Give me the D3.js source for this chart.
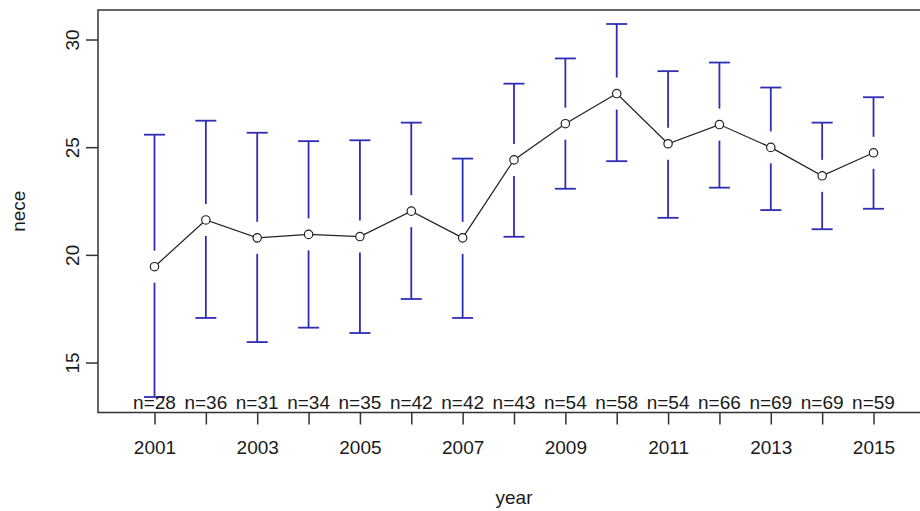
<!DOCTYPE html>
<html>
<head>
<meta charset="utf-8">
<script src="https://cdn.jsdelivr.net/npm/d3@7"></script>
<style>
  body { margin: 0; background: #fff; }
  svg text { font-family: "Liberation Sans", Arial, sans-serif; fill: #1a1a1a; }
</style>
</head>
<body>
<svg id="viz" width="920" height="511"></svg>
<script>
// data
var years = [2001, 2002, 2003, 2004, 2005, 2006, 2007, 2008, 2009, 2010, 2011, 2012, 2013, 2014, 2015];
var means = [19.45, 21.62, 20.79, 20.95, 20.85, 22.03, 20.79, 24.41, 26.09, 27.49, 25.16, 26.05, 24.99, 23.67, 24.74];
var upper = [25.58, 26.23, 25.67, 25.28, 25.32, 26.14, 24.47, 27.95, 29.12, 30.72, 28.53, 28.93, 27.77, 26.14, 27.32];
var lower = [13.40, 17.07, 15.95, 16.62, 16.37, 17.95, 17.07, 20.84, 23.07, 24.35, 21.72, 23.12, 22.08, 21.19, 22.14];
var counts = [28, 36, 31, 34, 35, 42, 42, 43, 54, 58, 54, 66, 69, 69, 59];
var yTicks = [15, 20, 25, 30];
var xLabelYears = [2001, 2003, 2005, 2007, 2009, 2011, 2013, 2015];

// plot region (right edge runs off the picture, as in the original)
var plotL = 98, plotR = 930, plotT = 10, plotB = 412.5;
var barCol = "#2e2eb4";
var gap = 16;

var x = d3.scaleLinear().domain([1999.9, 2016.1]).range([plotL, plotR]);
var y = d3.scaleLinear().domain([12.68, 31.37]).range([plotB, plotT]);

var svg = d3.select("#viz");

// plot box
svg.append("rect")
    .attr("x", plotL).attr("y", plotT)
    .attr("width", plotR - plotL).attr("height", plotB - plotT)
    .attr("fill", "none").attr("stroke", "#333").attr("stroke-width", 1.5);

// y axis with rotated labels
var yAxis = d3.axisLeft(y).tickValues(yTicks).tickSize(12).tickSizeOuter(0);
var gy = svg.append("g").attr("transform", "translate(" + plotL + ",0)").call(yAxis);
gy.select(".domain").remove();
gy.selectAll("line").attr("stroke", "#333").attr("stroke-width", 1.5);
gy.selectAll(".tick text").remove();
gy.selectAll(".tick").append("text")
    .attr("font-size", 19)
    .attr("text-anchor", "middle")
    .attr("transform", "translate(-26,0) rotate(-90)")
    .attr("dy", "0.35em")
    .text(function(d){ return d; });

// x axis: ticks every year, labels on odd years
var xAxis = d3.axisBottom(x).tickValues(years).tickSize(12).tickSizeOuter(0)
    .tickFormat(function(d){ return xLabelYears.indexOf(d) >= 0 ? d : ""; });
var gx = svg.append("g").attr("transform", "translate(0," + plotB + ")").call(xAxis);
gx.select(".domain").remove();
gx.selectAll("line").attr("stroke", "#333").attr("stroke-width", 1.5);
gx.selectAll("text").attr("font-size", 19).attr("y", 35).attr("dy", "0.35em");

// axis titles
svg.append("text").attr("x", (plotL + plotR) / 2).attr("y", 497).attr("dy", "0.35em")
    .attr("text-anchor", "middle").attr("font-size", 19).text("year");
svg.append("text").attr("transform", "translate(18," + ((plotT + plotB) / 2) + ") rotate(-90)")
    .attr("dy", "0.35em").attr("text-anchor", "middle").attr("font-size", 19).text("nece");

var pts = years.map(function(yr, i){
    return { year: yr, mean: means[i], hi: upper[i], lo: lower[i], n: counts[i] };
});

// error bars
var bars = svg.append("g").selectAll("g").data(pts).enter().append("g")
    .attr("stroke", barCol).attr("stroke-width", 1.8);
bars.append("line")
    .attr("x1", function(d){ return x(d.year); }).attr("x2", function(d){ return x(d.year); })
    .attr("y1", function(d){ return y(d.hi); }).attr("y2", function(d){ return y(d.mean) - gap; });
bars.append("line")
    .attr("x1", function(d){ return x(d.year); }).attr("x2", function(d){ return x(d.year); })
    .attr("y1", function(d){ return y(d.mean) + gap; }).attr("y2", function(d){ return y(d.lo); });
bars.append("line")
    .attr("x1", function(d){ return x(d.year) - 10.5; }).attr("x2", function(d){ return x(d.year) + 10.5; })
    .attr("y1", function(d){ return y(d.hi); }).attr("y2", function(d){ return y(d.hi); });
bars.append("line")
    .attr("x1", function(d){ return x(d.year) - 10.5; }).attr("x2", function(d){ return x(d.year) + 10.5; })
    .attr("y1", function(d){ return y(d.lo); }).attr("y2", function(d){ return y(d.lo); });

// mean line + points
var line = d3.line().x(function(d){ return x(d.year); }).y(function(d){ return y(d.mean); });
svg.append("path").datum(pts).attr("d", line)
    .attr("fill", "none").attr("stroke", "#222").attr("stroke-width", 1.2);
svg.append("g").selectAll("circle").data(pts).enter().append("circle")
    .attr("cx", function(d){ return x(d.year); })
    .attr("cy", function(d){ return y(d.mean); })
    .attr("r", 4.2)
    .attr("fill", "#fff").attr("stroke", "#222").attr("stroke-width", 1.2);

// n labels
svg.append("g").selectAll("text").data(pts).enter().append("text")
    .attr("x", function(d){ return x(d.year); })
    .attr("y", 402).attr("dy", "0.35em")
    .attr("text-anchor", "middle").attr("font-size", 19)
    .text(function(d){ return "n=" + d.n; });
</script>
</body>
</html>
